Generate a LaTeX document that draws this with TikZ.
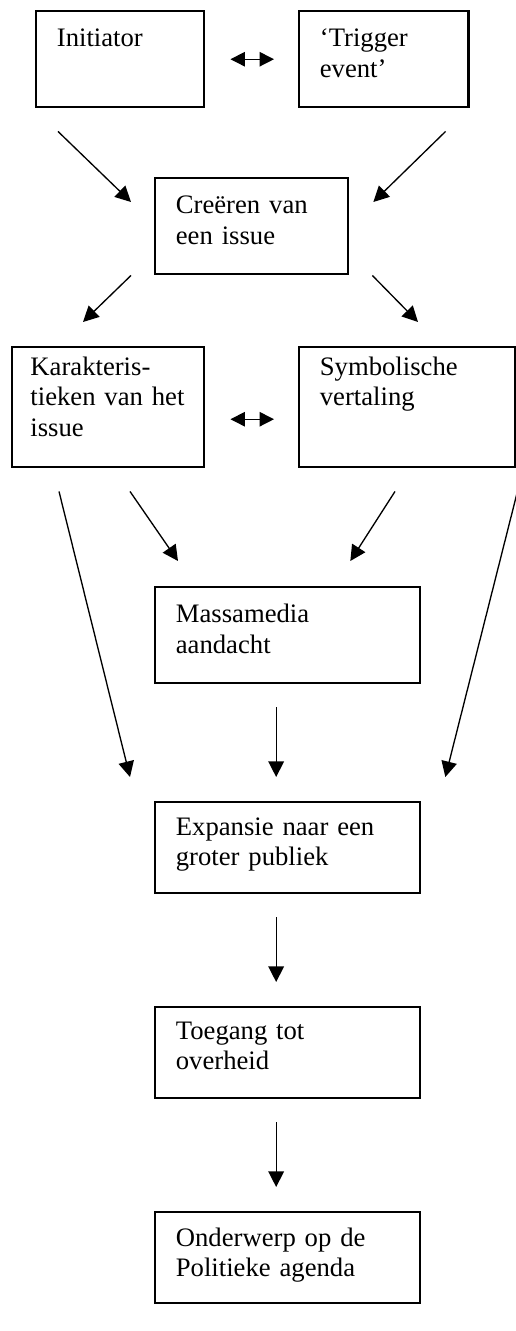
\documentclass[tikz,border=0pt]{standalone}
\usepackage{fontspec}
\setmainfont{Liberation Serif}
\usetikzlibrary{arrows.meta}

\tikzset{
    blok/.style={draw, line width=1.1pt, anchor=north west, align=left,
        inner xsep=9.3pt, inner ysep=0pt, text height=16pt,
        font=\fontsize{12}{13.8}\selectfont},
    pijl/.style={-{Triangle[length=7pt,width=7pt]}, line width=0.6pt},
    dubbel/.style={{Triangle[length=6.5pt,width=6.5pt]}-{Triangle[length=6.5pt,width=6.5pt]}, line width=0.6pt}
}

\begin{document}
\begin{tikzpicture}[x=0.45pt,y=-0.45pt]
    \useasboundingbox (0,0) rectangle (516,1331);

    % bovenste rij
    \node[blok, text width=57pt, text depth=27.2pt] (init) at (35,10) {Initiator};
    \node[blok, text width=57.5pt, text depth=27.2pt] (trigger) at (298,10) {‘Trigger\\event’};
    \node[blok, text width=68.2pt, text depth=27.2pt] (creeren) at (154,177) {Creëren van\\een issue};

    % tweede rij
    \node[blok, text width=70pt, inner xsep=8.2pt, text height=12.6pt, text depth=41.4pt] (karak) at (11,346) {Karakteris-\\\mbox{tieken van het}\\issue};
    \node[blok, text width=78.6pt, text height=12.6pt, text depth=41.4pt] (symb) at (298,346) {Symbolische\\vertaling};

    % middenkolom
    \node[blok, text width=100.6pt, text depth=27.2pt] (massa) at (154,586) {Massamedia\\aandacht};
    \node[blok, text width=100.6pt, text height=14.8pt, text depth=26.15pt] (expansie) at (154,801) {Expansie naar een\\groter publiek};
    \node[blok, text width=100.6pt, text height=14.4pt, text depth=26.55pt] (toegang) at (154,1006) {Toegang tot\\overheid};
    \node[blok, text width=100.6pt, text height=15.3pt, text depth=25.65pt] (onderwerp) at (154,1211) {Onderwerp op de\\Politieke agenda};

    % pijlen
    \draw[dubbel, shorten <=11.25pt, shorten >=10.8pt] (init) -- (trigger);
    \draw[pijl] ([shift={(23,23)}]init.south west) -- ([shift={(-23,25)}]creeren.north west);
    \draw[pijl] ([shift={(-24,23)}]trigger.south east) -- ([shift={(24,25)}]creeren.north east);
    \draw[pijl] ([shift={(-23,0)}]creeren.south west) -- ([shift={(72,-24)}]karak.north west);
    \draw[pijl] ([shift={(23,0)}]creeren.south east) -- ([shift={(120,-24)}]symb.north west);
    \draw[dubbel] ([shift={(25,12)}]karak.east) -- ([shift={(-24,12)}]symb.west);
    \draw[pijl] ([shift={(48,23)}]karak.south west) -- ([shift={(-24,-24)}]expansie.north west);
    \draw[pijl] ([shift={(119,23)}]karak.south west) -- ([shift={(24,-25)}]massa.north west);
    \draw[pijl] ([shift={(97,23)}]symb.south west) -- ([shift={(-71,-25)}]massa.north east);
    \draw[pijl] ([shift={(1,23)}]symb.south east) -- ([shift={(24,-24)}]expansie.north east);
    \foreach \a/\b in {massa/expansie, expansie/toegang, toegang/onderwerp} {
        \draw[pijl] ([shift={(-11.5,23)}]\a.south) -- ([shift={(-11.5,-24)}]\b.north);
    }
\end{tikzpicture}
\end{document}
